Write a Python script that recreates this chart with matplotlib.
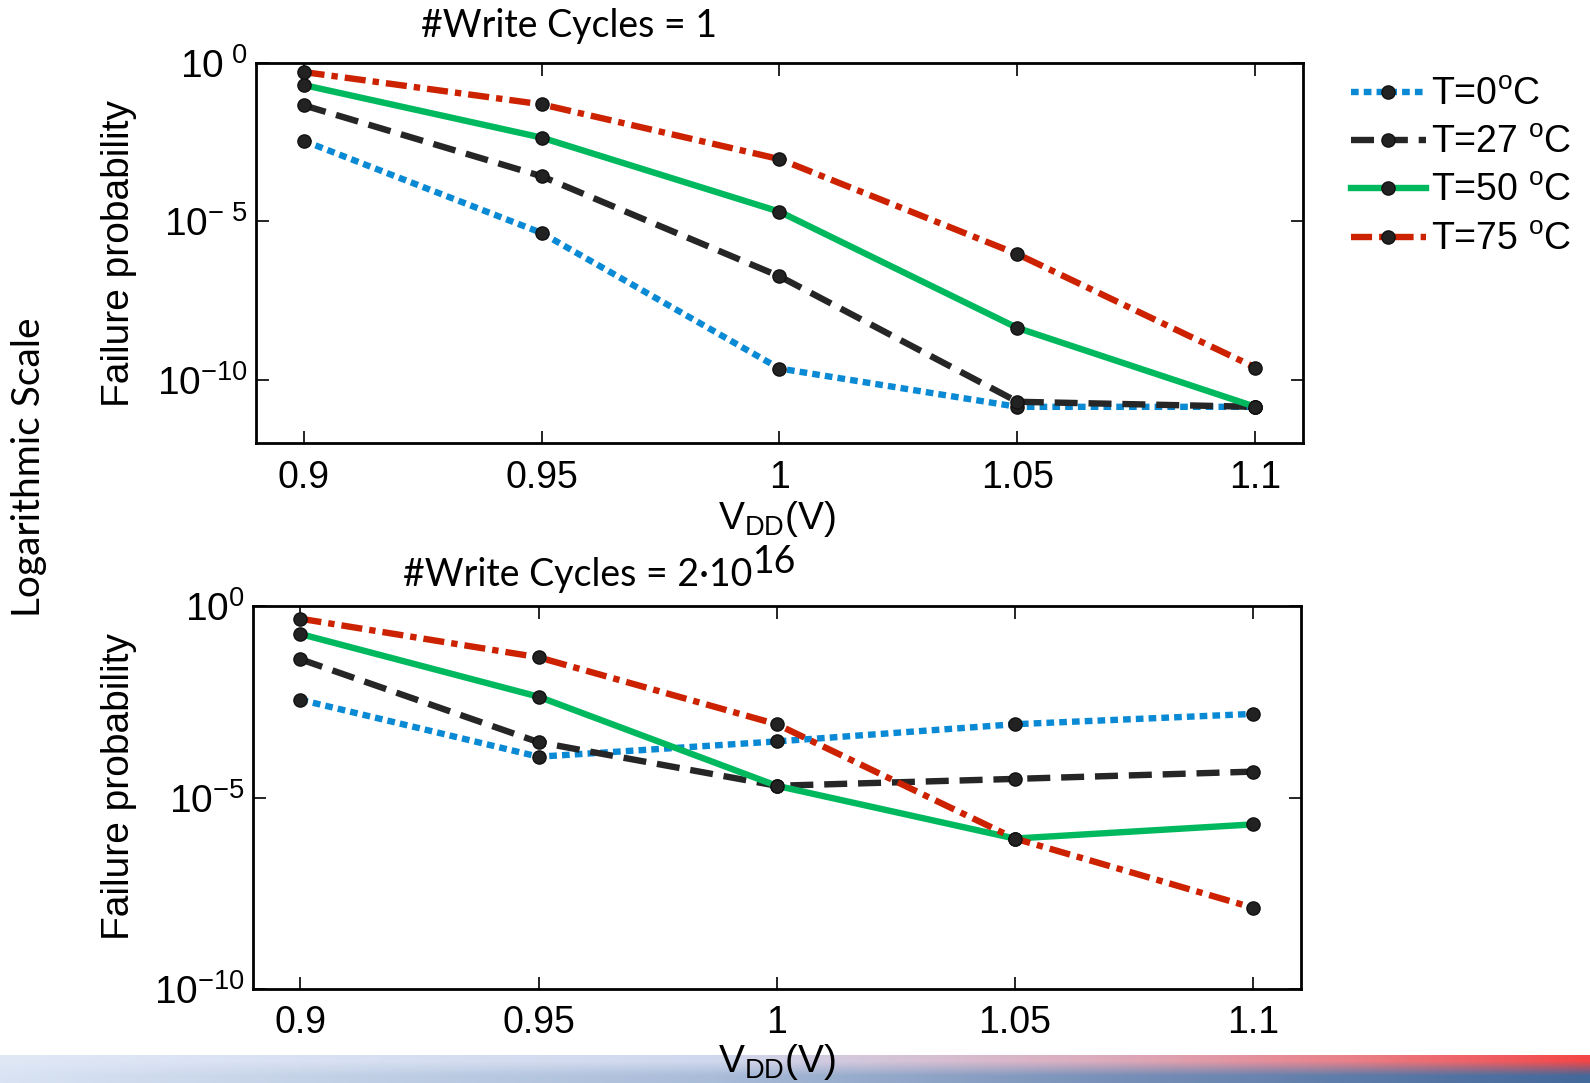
import numpy as np
import matplotlib
matplotlib.use("Agg")
import matplotlib.pyplot as plt
from matplotlib import font_manager

# ---- data (log10 of failure probability) ----
vdd = [0.9, 0.95, 1.0, 1.05, 1.1]
labels = ["T=0$^{\\rm o}$C", "T=27 $^{\\rm o}$C", "T=50 $^{\\rm o}$C", "T=75 $^{\\rm o}$C"]

# write cycles = 1
top_t0 = [-2.46, -5.37, -9.65, -10.86, -10.86]
top_t27 = [-1.34, -3.58, -6.74, -10.70, -10.86]
top_t50 = [-0.70, -2.36, -4.70, -8.37, -10.86]
top_t75 = [-0.29, -1.31, -3.04, -6.04, -9.62]

# write cycles = 2e16
bot_t0 = [-2.44, -3.93, -3.53, -3.08, -2.81]
bot_t27 = [-1.38, -3.55, -4.69, -4.51, -4.32]
bot_t50 = [-0.72, -2.36, -4.69, -6.07, -5.70]
bot_t75 = [-0.32, -1.33, -3.08, -6.07, -7.88]

xticks = [0.9, 0.95, 1.0, 1.05, 1.1]
xticklabels = ["0.9", "0.95", "1", "1.05", "1.1"]
top_yticks = [1e-10, 1e-5, 1e0]
top_yticklabels = ["$10^{-10}$", "$10^{-\\ 5}$", "$10^{\\ 0}$"]
bot_yticks = [1e-10, 1e-5, 1e0]
bot_yticklabels = ["$10^{-10}$", "$10^{-5}$", "$10^{0}$"]

colors = ["#0a8ad4", "#262626", "#00b95f", "#cc2200"]
styles = [(0, (1.2, 0.8)), (0, (3.6, 1.7)), "-", (0, (3.3, 1.1, 1.0, 1.1))]

# ---- fonts ----
names = {f.name for f in font_manager.fontManager.ttflist}
narrow = "Liberation Sans Narrow" if "Liberation Sans Narrow" in names else "Liberation Sans"
plt.rcParams["font.family"] = [narrow, "DejaVu Sans"]
plt.rcParams["mathtext.fontset"] = "custom"
plt.rcParams["mathtext.rm"] = narrow
plt.rcParams["mathtext.it"] = narrow
plt.rcParams["mathtext.bf"] = narrow
plt.rcParams["mathtext.default"] = "rm"
plt.rcParams["xtick.direction"] = "in"
plt.rcParams["ytick.direction"] = "in"

fig = plt.figure(figsize=(15.9, 10.83), dpi=100)

# gradient bar at the bottom (slide decoration)
bar = fig.add_axes([0, 0, 1, 0.026])
xs = np.linspace(0, 1, 400)
up_stops = [(0.0, "#e0e8f6"), (0.45, "#cfd8ee"), (0.7, "#dcaabb"), (0.85, "#e98088"), (1.0, "#f44646")]
lo_stops = [(0.0, "#d9e3f3"), (0.45, "#a9bcd8"), (0.7, "#7890b8"), (1.0, "#43689a")]


def ramp(stops):
    pos = [p for p, _ in stops]
    rgb = np.array([matplotlib.colors.to_rgb(c) for _, c in stops])
    return np.stack([np.interp(xs, pos, rgb[:, i]) for i in range(3)], axis=1)


img = np.stack([ramp(up_stops), ramp(lo_stops)], axis=0)
bar.imshow(img, aspect="auto", extent=[0, 1, 0, 1], interpolation="bilinear")
bar.axis("off")


def draw(ax, series, ylim, yticks, yticklabels):
    for vals, c, ls, lab in zip(series, colors, styles, labels):
        ax.plot(vdd, 10.0 ** np.array(vals), color=c, linestyle=ls, linewidth=4.6,
                marker="o", markersize=9.5, markerfacecolor="#222222",
                markeredgecolor="#111111", label=lab)
    ax.set_yscale("log")
    ax.set_xlim(0.89, 1.11)
    ax.set_ylim(*ylim)
    ax.set_xticks(xticks)
    ax.set_xticklabels(xticklabels, fontsize=27)
    ax.set_yticks(yticks)
    ax.set_yticklabels(yticklabels, fontsize=28)
    ax.minorticks_off()
    ax.tick_params(axis="x", top=True, length=9, width=1.2, pad=12)
    ax.tick_params(axis="y", right=True, length=9, width=1.2, pad=6)
    for s in ax.spines.values():
        s.set_linewidth(2.0)


ax1 = fig.add_axes([0.161, 0.591, 0.6585, 0.351])
draw(ax1, [top_t0, top_t27, top_t50, top_t75], (1e-12, 1e0), top_yticks, top_yticklabels)

ax2 = fig.add_axes([0.159, 0.087, 0.659, 0.353])
draw(ax2, [bot_t0, bot_t27, bot_t50, bot_t75], (1e-10, 1e0), bot_yticks, bot_yticklabels)

ax1.legend(loc="upper left", bbox_to_anchor=(0.84, 0.943), bbox_transform=fig.transFigure,
           frameon=False, fontsize=27, handlelength=2.0, handletextpad=0.15,
           labelspacing=0.33, borderaxespad=0)

# titles and labels
title_font = ["Lato", "DejaVu Sans"]
fig.text(0.358, 0.976, "#Write Cycles = 1", ha="center", va="center", fontsize=27, family=title_font)
t2 = fig.text(0.3635, 0.469, "#Write Cycles = 2\u00b710", ha="center", va="center",
              fontsize=27, family=title_font)
# superscript anchored to the end of the title text
ax2.annotate("16", xy=(1.0, 0.85), xycoords=t2, ha="left", va="center",
             fontsize=27, family=title_font, annotation_clip=False)

fig.text(0.018, 0.569, "Logarithmic Scale", rotation=90, ha="center", va="center",
         fontsize=28, family=title_font)
for yc in (0.766, 0.274):
    fig.text(0.075, yc, "Failure probability", rotation=90, ha="center", va="center",
             fontsize=28, family=["Liberation Sans", "DejaVu Sans"])

for yt in (0.539, 0.0375):
    fig.text(0.489, yt, "V$_{\\rm DD}$(V)", ha="center", va="top", fontsize=28)

fig.savefig("out.png", dpi=100)
